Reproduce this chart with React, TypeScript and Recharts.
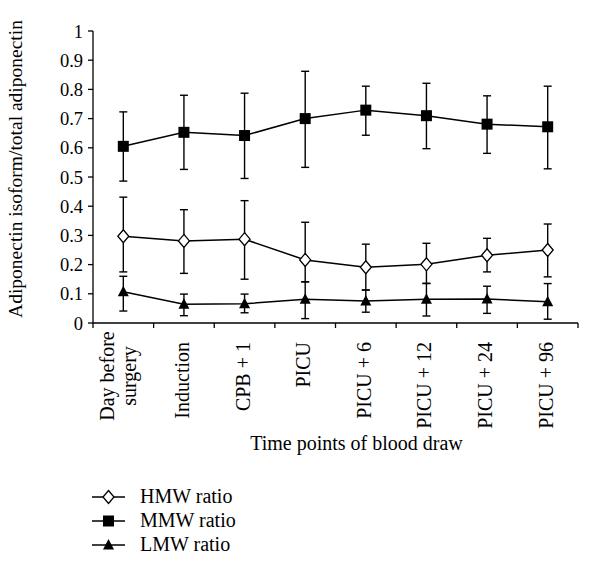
import React from 'react'
import { LineChart, Line, XAxis, YAxis, ErrorBar } from 'recharts'

const categories = ['Day before surgery', 'Induction', 'CPB + 1', 'PICU', 'PICU + 6', 'PICU + 12', 'PICU + 24', 'PICU + 96']

const hmw = [0.297, 0.281, 0.287, 0.216, 0.191, 0.201, 0.232, 0.25]
const hmwLow = [0.175, 0.17, 0.15, 0.141, 0.113, 0.136, 0.175, 0.158]
const hmwHigh = [0.431, 0.388, 0.419, 0.345, 0.27, 0.273, 0.29, 0.339]

const mmw = [0.605, 0.653, 0.642, 0.7, 0.729, 0.71, 0.681, 0.672]
const mmwLow = [0.486, 0.526, 0.495, 0.533, 0.643, 0.597, 0.581, 0.528]
const mmwHigh = [0.723, 0.78, 0.787, 0.862, 0.811, 0.821, 0.778, 0.811]

const lmw = [0.107, 0.064, 0.066, 0.081, 0.075, 0.081, 0.082, 0.073]
const lmwLow = [0.041, 0.025, 0.035, 0.015, 0.037, 0.024, 0.033, 0.013]
const lmwHigh = [0.16, 0.099, 0.099, 0.141, 0.113, 0.135, 0.126, 0.135]

const yTicks = [0, 0.1, 0.2, 0.3, 0.4, 0.5, 0.6, 0.7, 0.8, 0.9, 1]
const xBounds = [0, 1, 2, 3, 4, 5, 6, 7, 8]

const FONT = '"Liberation Serif", "DejaVu Serif", serif'
const W = 600
const H = 460
const MARGIN = { top: 31, right: 22, bottom: 0, left: 0 }
const Y_W = 93
const BAND = (W - MARGIN.left - MARGIN.right - Y_W) / categories.length

const chartData = categories.map((c, i) => ({
  x: i + 0.5,
  name: c,
  hmw: hmw[i],
  hmwErr: [hmw[i] - hmwLow[i], hmwHigh[i] - hmw[i]],
  mmw: mmw[i],
  mmwErr: [mmw[i] - mmwLow[i], mmwHigh[i] - mmw[i]],
  lmw: lmw[i],
  lmwErr: [lmw[i] - lmwLow[i], lmwHigh[i] - lmw[i]],
}))

function Diamond({ cx, cy }: any) {
  if (cx == null || cy == null) return null
  return (
    <polygon
      points={`${cx},${cy - 6.5} ${cx + 5.5},${cy} ${cx},${cy + 6.5} ${cx - 5.5},${cy}`}
      fill="#fff"
      stroke="#000"
      strokeWidth={1.3}
    />
  )
}

function Square({ cx, cy }: any) {
  if (cx == null || cy == null) return null
  return <rect x={cx - 5.5} y={cy - 5.5} width={11} height={11} fill="#000" />
}

function Triangle({ cx, cy }: any) {
  if (cx == null || cy == null) return null
  return <polygon points={`${cx},${cy - 6} ${cx + 5.5},${cy + 4.5} ${cx - 5.5},${cy + 4.5}`} fill="#000" />
}

function XTick({ x, y, payload }: any) {
  const i = payload.value
  if (i >= categories.length) return null
  const cx = x + BAND / 2
  const label = categories[i]
  if (label === 'Day before surgery') {
    const lines = ['Day before', 'surgery']
    return (
      <g>
        {lines.map((l, k) => (
          <text
            key={k}
            transform={`translate(${cx - 9 + k * 22},${y + 46}) rotate(-90)`}
            textAnchor="middle"
            fontSize={20}
            fontFamily={FONT}
            fill="#000"
          >
            {l}
          </text>
        ))}
      </g>
    )
  }
  return (
    <text
      transform={`translate(${cx + 5},${y + 12}) rotate(-90)`}
      textAnchor="end"
      fontSize={20}
      fontFamily={FONT}
      fill="#000"
    >
      {label}
    </text>
  )
}

const legendItems = [
  { name: 'HMW ratio', Mark: Diamond },
  { name: 'MMW ratio', Mark: Square },
  { name: 'LMW ratio', Mark: Triangle },
]

export default function App() {
  return (
    <div style={{ position: 'absolute', left: 0, top: 0, width: W, height: 579, background: '#fff' }}>
      <LineChart width={W} height={H} data={chartData} margin={MARGIN}>
        <XAxis
          dataKey="x"
          type="number"
          domain={[0, 8]}
          ticks={xBounds}
          interval={0}
          height={137}
          stroke="#000"
          strokeWidth={1.3}
          tickSize={5}
          tick={<XTick />}
          label={{
            value: 'Time points of blood draw',
            position: 'insideBottom',
            offset: 10,
            dx: 21,
            fontSize: 20,
            fontFamily: FONT,
            fill: '#000',
          }}
        />
        <YAxis
          domain={[0, 1]}
          ticks={yTicks}
          interval={0}
          width={Y_W}
          stroke="#000"
          strokeWidth={1.3}
          tickSize={5}
          tickMargin={5}
          tickFormatter={(v: number) => String(v)}
          tick={{ fontSize: 18.5, fontFamily: FONT, fill: '#000' }}
          label={{
            content: () => (
              <text
                transform="translate(22,169) rotate(-90)"
                textAnchor="middle"
                fontSize={19.5}
                fontFamily={FONT}
                fill="#000"
              >
                Adiponectin isoform/total adiponectin
              </text>
            ),
          }}
        />
        <Line dataKey="mmw" stroke="#000" strokeWidth={1.5} dot={<Square />} isAnimationActive={false}>
          <ErrorBar dataKey="mmwErr" width={4} stroke="#000" strokeWidth={1.4} direction="y" />
        </Line>
        <Line dataKey="hmw" stroke="#000" strokeWidth={1.5} dot={<Diamond />} isAnimationActive={false}>
          <ErrorBar dataKey="hmwErr" width={4} stroke="#000" strokeWidth={1.4} direction="y" />
        </Line>
        <Line dataKey="lmw" stroke="#000" strokeWidth={1.5} dot={<Triangle />} isAnimationActive={false}>
          <ErrorBar dataKey="lmwErr" width={4} stroke="#000" strokeWidth={1.4} direction="y" />
        </Line>
      </LineChart>
      <svg width={300} height={90} style={{ position: 'absolute', left: 80, top: 484 }}>
        {legendItems.map((it, i) => {
          const cy = 13 + i * 24
          return (
            <g key={it.name}>
              <line x1={12} x2={45} y1={cy} y2={cy} stroke="#000" strokeWidth={1.5} />
              <it.Mark cx={28.5} cy={cy} />
              <text x={60} y={cy + 6} fontSize={20} fontFamily={FONT} fill="#000">
                {it.name}
              </text>
            </g>
          )
        })}
      </svg>
    </div>
  )
}
